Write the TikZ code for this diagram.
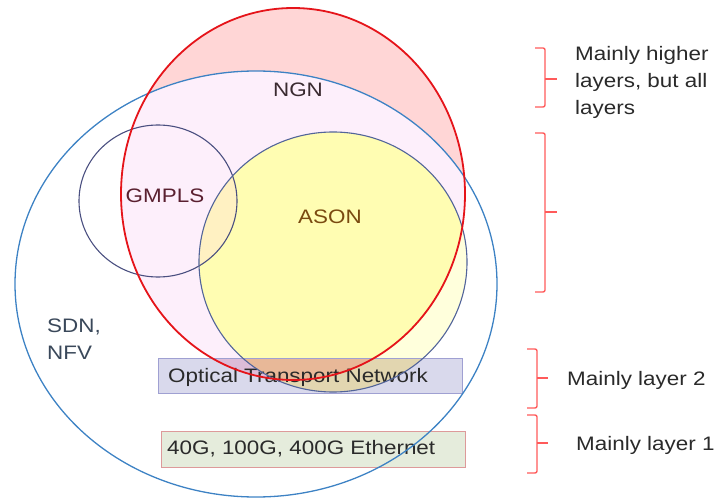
\documentclass[tikz,border=0pt]{standalone}
\usepackage{fontspec}
\setmainfont[FakeStretch=1.15]{Liberation Sans}
\definecolor{pinkA}{HTML}{FFD6D6}
\definecolor{pinkB}{HTML}{FDEFFB}
\definecolor{yelPale}{HTML}{FFFFDC}
\definecolor{yelA}{HTML}{FFFDB2}
\definecolor{yelOr}{HTML}{FFF1C2}
\definecolor{otnFill}{HTML}{D9D9EC}
\definecolor{otnLine}{HTML}{9FA0D2}
\definecolor{mauve}{HTML}{DCBCD8}
\definecolor{tanC}{HTML}{E2D6B0}
\definecolor{salmon}{HTML}{E8B898}
\definecolor{ethFill}{HTML}{E5ECDC}
\definecolor{ethLine}{HTML}{DD9A9A}
\definecolor{blueL}{HTML}{3D82C4}
\definecolor{redL}{HTML}{E5141A}
\definecolor{asonL}{HTML}{52649A}
\definecolor{gmplsL}{HTML}{4A4F80}
\definecolor{braceC}{HTML}{FF5A5A}
\definecolor{txt}{HTML}{2A2A2A}
\definecolor{ngnT}{HTML}{3A2A30}
\definecolor{gmplsT}{HTML}{5A2030}
\definecolor{asonT}{HTML}{7A4A10}
\definecolor{sdnT}{HTML}{3A485A}
\tikzset{
  lbl/.style={inner sep=0pt, font=\fontsize{19.5}{27}\selectfont, text=txt},
  bracket/.style={draw=braceC, line width=1.4pt, rounded corners=2pt},
}
\def\redE{(293,194) ellipse [x radius=172pt, y radius=186pt]}
\def\blueE{(256,284) ellipse [x radius=241pt, y radius=213pt]}
\def\asonE{(333,262) ellipse [x radius=134pt, y radius=130pt]}
\def\gmplsE{(158,201) ellipse [x radius=79pt, y radius=76pt]}
\begin{document}
\begin{tikzpicture}[x=1pt,y=-1pt]
\useasboundingbox (0,0) rectangle (714,502);
% fills
\fill[pinkA] \redE;
\begin{scope}\clip \blueE; \fill[pinkB] \redE; \end{scope}
\fill[yelPale] \asonE;
\begin{scope}\clip \redE; \fill[yelA] \asonE; \end{scope}
\begin{scope}\clip \gmplsE; \fill[yelOr] \asonE; \end{scope}
% OTN box
\fill[otnFill] (158,358) rectangle (462,393);
\begin{scope}
  \clip (158,358) rectangle (462,393);
  \fill[mauve] \redE;
  \fill[tanC] \asonE;
  \begin{scope}\clip \redE; \fill[salmon] \asonE; \end{scope}
\end{scope}
\draw[otnLine, line width=1pt] (158,358) rectangle (462,393);
% Ethernet box
\fill[ethFill] (161,431) rectangle (465,467);
\draw[ethLine, line width=1pt] (161,431) rectangle (465,467);
% texts
\node[lbl, anchor=west] (otn) at (168,377) {Optical Transport Network};
\node[lbl, anchor=west] (eth) at (167,449) {40G, 100G, 400G Ethernet};
\node[lbl, text=ngnT] (ngn) at (298,90) {NGN};
\node[lbl, text=gmplsT] (gmpls) at (165,196) {GMPLS};
\node[lbl, text=asonT] (ason) at (330,217) {ASON};
\node[lbl, align=left, anchor=west, text=sdnT] (sdn) at (47,339) {SDN,\\NFV};
% outlines
\draw[blueL, line width=1.3pt] \blueE;
\draw[gmplsL, line width=1.1pt] \gmplsE;
\draw[asonL, line width=1.1pt] \asonE;
\draw[redL, line width=1.8pt] \redE;
% brackets
\draw[bracket] (535,48) -- (545,48) -- (545,107) -- (535,107);
\draw[braceC, line width=1.4pt] (545,79) -- (557,79);
\draw[bracket] (535,133) -- (545,133) -- (545,292) -- (535,292);
\draw[braceC, line width=1.4pt] (545,212) -- (557,212);
\draw[bracket] (527,349) -- (537,349) -- (537,408) -- (527,408);
\draw[braceC, line width=1.4pt] (537,378) -- (548,378);
\draw[bracket] (527,415) -- (537,415) -- (537,473) -- (527,473);
\draw[braceC, line width=1.4pt] (537,443) -- (548,443);
% right labels
\node[lbl, align=left, anchor=west] (high) at (575,82) {Mainly higher\\layers, but all\\layers};
\node[lbl, anchor=west] (l2) at (567,380) {Mainly layer 2};
\node[lbl, anchor=west] (l1) at (576,445) {Mainly layer 1};
\end{tikzpicture}
\end{document}
